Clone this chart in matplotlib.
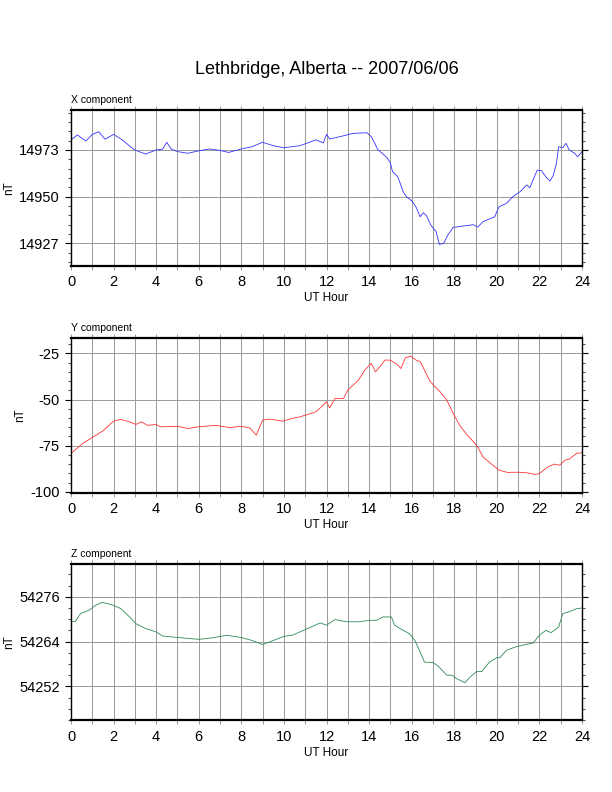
import matplotlib
matplotlib.use("Agg")
import matplotlib.pyplot as plt
from matplotlib.ticker import MultipleLocator, FixedLocator

plt.rcParams['font.family'] = ['Liberation Sans', 'DejaVu Sans']
plt.rcParams['axes.unicode_minus'] = False

title = "Lethbridge, Alberta -- 2007/06/06"
components = ["X component", "Y component", "Z component"]

x_hours = [0, 0.3, 0.7, 1.0, 1.3, 1.6, 2.0, 2.4, 2.8, 3.0, 3.5, 4.0, 4.3, 4.5, 4.7, 5.0, 5.5,
           6.0, 6.5, 7.0, 7.4, 8.0, 8.5, 9.0, 9.5, 10.0, 10.5, 10.75, 11.5, 11.85, 12.0, 12.15,
           12.8, 13.25, 13.9, 14.1, 14.27, 14.4, 14.8, 15.0, 15.1, 15.35, 15.6, 15.75, 16.0,
           16.2, 16.4, 16.55, 16.7, 16.9, 17.15, 17.3, 17.5, 17.7, 17.95, 18.25, 18.6, 18.9,
           19.1, 19.35, 19.6, 19.9, 20.1, 20.45, 20.75, 21.1, 21.4, 21.55, 21.7, 21.9, 22.1,
           22.3, 22.5, 22.65, 22.8, 22.9, 23.1, 23.25, 23.4, 23.65, 23.8, 24.0]
x_vals = [14978.0, 14980.4, 14977.4, 14980.7, 14982.0, 14978.3, 14980.7, 14978.0, 14974.6,
          14973.0, 14971.0, 14973.0, 14973.4, 14976.8, 14973.5, 14972.2, 14971.4, 14972.6,
          14973.5, 14972.8, 14971.8, 14973.5, 14974.6, 14976.8, 14975.1, 14974.1, 14974.8,
          14975.1, 14978.0, 14976.5, 14980.7, 14978.4, 14980.0, 14981.2, 14981.5, 14979.6,
          14976.3, 14973.3, 14969.7, 14966.7, 14962.3, 14959.8, 14952.5, 14950.0, 14948.0,
          14945.0, 14940.1, 14942.1, 14940.5, 14936.0, 14932.7, 14926.5, 14927.0, 14931.1,
          14934.9, 14935.3, 14935.8, 14936.2, 14935.0, 14937.7, 14938.8, 14940.1, 14945.0,
          14946.7, 14950.0, 14952.5, 14955.8, 14954.4, 14958.2, 14963.1, 14962.8, 14959.8,
          14957.7, 14960.5, 14966.4, 14974.6, 14974.2, 14976.3, 14973.0, 14971.4, 14969.7,
          14972.2]

y_hours = [0, 0.55, 1.0, 1.5, 2.0, 2.35, 2.75, 3.05, 3.3, 3.6, 4.0, 4.2, 5.0, 5.5, 6.0, 6.8,
           7.45, 8.0, 8.4, 8.7, 9.0, 9.3, 9.95, 10.4, 10.75, 11.5, 11.85, 12.0, 12.15, 12.4,
           12.8, 13.0, 13.5, 13.8, 14.1, 14.3, 14.5, 14.75, 15.0, 15.3, 15.5, 15.7, 15.95,
           16.2, 16.4, 16.6, 16.85, 17.1, 17.3, 17.65, 17.95, 18.25, 18.55, 18.9, 19.1, 19.35,
           19.75, 20.1, 20.5, 21.0, 21.4, 21.8, 22.0, 22.4, 22.7, 22.95, 23.2, 23.4, 23.75, 24.0]
y_vals = [-79.2, -73.8, -70.6, -67.0, -61.7, -60.8, -62.1, -63.5, -62.1, -64.0, -63.5, -64.8,
          -64.5, -65.7, -64.8, -64.0, -65.2, -64.5, -65.4, -69.3, -61.2, -60.6, -61.7, -60.2,
          -59.4, -56.7, -53.0, -51.2, -54.5, -49.4, -49.4, -44.9, -39.5, -34.0, -30.4, -35.0,
          -32.3, -28.6, -28.7, -30.8, -33.2, -27.4, -26.5, -28.6, -29.5, -34.0, -39.9, -43.1,
          -45.3, -50.3, -57.5, -63.9, -68.4, -72.9, -75.6, -81.1, -85.0, -88.3, -89.5, -89.4,
          -89.7, -90.6, -90.1, -86.5, -85.0, -85.6, -82.9, -82.3, -79.2, -78.8]

z_hours = [0, 0.2, 0.45, 0.85, 1.15, 1.45, 1.7, 2.0, 2.35, 2.75, 3.05, 3.5, 4.0, 4.3, 5.0,
           6.0, 6.65, 7.3, 8.0, 8.5, 9.0, 9.5, 10.0, 10.4, 10.75, 11.2, 11.7, 12.0, 12.4,
           12.95, 13.5, 14.05, 14.35, 14.65, 15.05, 15.2, 15.45, 15.9, 16.15, 16.4, 16.6,
           17.0, 17.25, 17.65, 17.9, 18.1, 18.5, 18.75, 19.05, 19.3, 19.65, 20.0, 20.15,
           20.45, 20.9, 21.4, 21.7, 22.0, 22.3, 22.55, 22.9, 23.1, 23.4, 23.75, 24.0]
z_vals = [54269.3, 54269.4, 54271.5, 54272.4, 54273.7, 54274.5, 54274.2, 54273.7, 54272.8,
          54270.6, 54268.8, 54267.5, 54266.6, 54265.5, 54265.1, 54264.6, 54265.0, 54265.7,
          54265.1, 54264.3, 54263.2, 54264.3, 54265.4, 54265.7, 54266.6, 54267.7, 54269.0,
          54268.4, 54269.9, 54269.3, 54269.3, 54269.7, 54269.7, 54270.6, 54270.6, 54268.4,
          54267.5, 54266.1, 54264.3, 54261.2, 54258.5, 54258.4, 54257.4, 54255.0, 54255.0,
          54254.1, 54253.0, 54254.5, 54256.0, 54256.0, 54258.5, 54259.7, 54259.7, 54261.7,
          54262.6, 54263.3, 54263.6, 54265.7, 54267.0, 54266.4, 54267.9, 54271.5, 54272.0,
          54272.8, 54273.0]

x_major = [14927, 14950, 14973]
y_major = [-100, -75, -50, -25]
z_major = [54252, 54264, 54276]

panels = [
    (x_hours, x_vals, "#3333ff", (14916.0, 14992.7), x_major, 23 / 5),
    (y_hours, y_vals, "#ff3333", (-100.5, -16.5), y_major, 5),
    (z_hours, z_vals, "#2e8b57", (54243.0, 54284.7), z_major, 3),
]

fig = plt.figure(figsize=(6.12, 7.92), dpi=100)
W, H = 612.0, 792.0
boxes = [(110, 265.7), (337.7, 492.7), (564.3, 720)]
left_px, right_px = 71, 582

for (hrs, vals, col, ylim, majors, minor), (top, bot), name in zip(panels, boxes, components):
    ax = fig.add_axes([left_px / W, 1 - bot / H, (right_px - left_px) / W, (bot - top) / H])
    ax.plot(hrs, vals, color=col, lw=0.6)
    ax.set_xlim(0, 24)
    ax.set_ylim(*ylim)
    ax.xaxis.set_major_locator(MultipleLocator(2))
    ax.xaxis.set_minor_locator(MultipleLocator(1))
    ax.yaxis.set_major_locator(FixedLocator(majors))
    base = majors[0]
    mins = []
    v = base
    while v > ylim[0]:
        v -= minor
    while v < ylim[1]:
        mins.append(v)
        v += minor
    ax.yaxis.set_minor_locator(FixedLocator(mins))
    ax.grid(True, which='major', axis='y', color='#999999', lw=0.7)
    ax.grid(True, which='both', axis='x', color='#999999', lw=0.7)
    ax.tick_params(axis='both', which='both', direction='out', labelsize=10.5)
    ax.tick_params(axis='y', which='both', left=True, right=True)
    ax.tick_params(axis='x', which='both', top=True, bottom=True)
    ax.tick_params(axis='y', which='major', length=4, width=0.8, pad=4)
    ax.tick_params(axis='y', which='minor', length=2, width=0.8, color='#555555')
    ax.tick_params(axis='x', which='major', length=3, width=0.7, pad=4, color='#999999')
    ax.tick_params(axis='x', which='minor', length=3, width=0.7, color='#999999')
    for s in ['top', 'bottom']:
        ax.spines[s].set_linewidth(1.6)
    for s in ['left', 'right']:
        ax.spines[s].set_linewidth(1.0)
    ax.set_xlabel("UT Hour", fontsize=8.5, labelpad=2)
    ax.set_ylabel("nT", fontsize=8.5, labelpad=3)
    ax.set_title(name, loc='left', fontsize=7.5, pad=5)

fig.text((left_px + right_px) / 2 / W, 1 - 69 / H, title, ha='center', va='center', fontsize=13)
fig.savefig("out.png", dpi=100)
